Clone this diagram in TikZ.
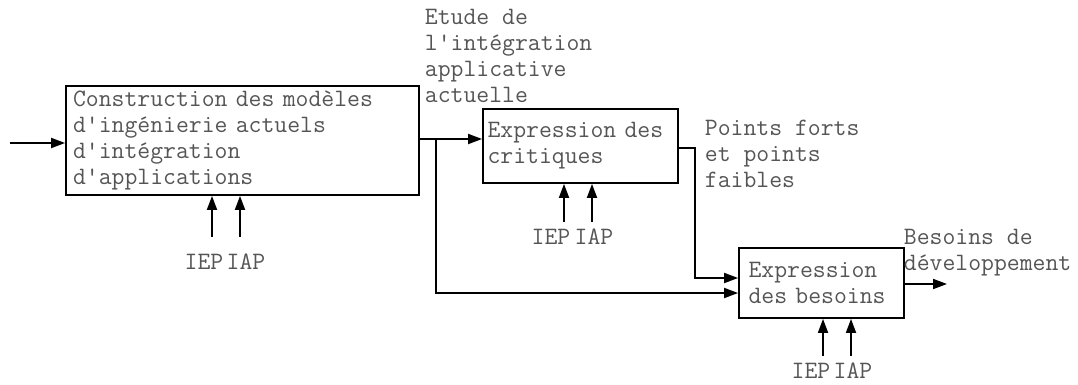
\documentclass[tikz,border=0pt]{standalone}
\usepackage{fontspec}
\usepackage{xcolor}
\usepackage{tikz}
\usetikzlibrary{arrows.meta}
\definecolor{txtgray}{RGB}{85,85,85}

\begin{document}
\begin{tikzpicture}[x=1pt, y=-1pt, >={Triangle[length=14pt,width=10pt]}, line width=1.8pt,
  every node/.style={font=\ttfamily\fontsize{25}{26}\selectfont, text=txtgray},
  activity/.style={draw=black, rectangle, inner ysep=0pt, align=left},
  flowlabel/.style={inner sep=0pt, anchor=north west, align=left},
  ctrllabel/.style={inner sep=0pt}]
  \useasboundingbox (0,0) rectangle (1078,385);
  % activities
  \node[activity, inner xsep=7pt, text width=339pt, minimum height=109pt] (constr) at (242.5,140.5)
    {Construction des modèles\\d\textquotesingle ingénierie actuels\\d\textquotesingle intégration\\d\textquotesingle applications};
  \node[activity, inner xsep=4.5pt, text width=186pt, minimum height=74pt] (crit) at (580.5,146)
    {Expression des\\critiques};
  \node[activity, inner xsep=9.5pt, text width=146pt, minimum height=70pt] (bes) at (821.5,283)
    {Expression\\des besoins};
  % flow labels
  \node[flowlabel] (etude) at (424,8) {Etude de\\l\textquotesingle intégration\\applicative\\actuelle};
  \node[flowlabel] (points) at (704,119) {Points forts\\et points\\faibles};
  \node[flowlabel] (besoins) at (903,228) {Besoins de\\développement};
  % control labels
  \node[ctrllabel] (iep1) at (204,262) {IEP}; \node[ctrllabel] (iap1) at (246,262) {IAP};
  \node[ctrllabel] (iep2) at (551,237) {IEP}; \node[ctrllabel] (iap2) at (594,237) {IAP};
  \node[ctrllabel] (iep3) at (811,371) {IEP}; \node[ctrllabel] (iap3) at (853,371) {IAP};
  % flows
  \coordinate (in) at (10,143);
  \draw[->] (in) -- (in -| constr.west);
  \coordinate (split) at (436,139);
  \coordinate (low) at (436,293);
  \draw (constr.east |- split) -- (split);
  \draw[->] (split) -- (split -| crit.west);
  \draw[->] (split) -- (low) -- (low -| bes.west);
  \coordinate (turn) at (695,148);
  \coordinate (drop) at (695,278);
  \draw[->] (crit.east |- turn) -- (turn) -- (drop) -- (drop -| bes.west);
  \coordinate (out) at (947,284);
  \draw[->] (bes.east |- out) -- (out);
  % controls
  \coordinate (c1) at (212,237); \coordinate (c2) at (240,237);
  \draw[->] (c1) -- (c1 |- constr.south); \draw[->] (c2) -- (c2 |- constr.south);
  \coordinate (c3) at (564,222); \coordinate (c4) at (592,222);
  \draw[->] (c3) -- (c3 |- crit.south); \draw[->] (c4) -- (c4 |- crit.south);
  \coordinate (c5) at (823,356); \coordinate (c6) at (851,356);
  \draw[->] (c5) -- (c5 |- bes.south); \draw[->] (c6) -- (c6 |- bes.south);
\end{tikzpicture}
\end{document}
